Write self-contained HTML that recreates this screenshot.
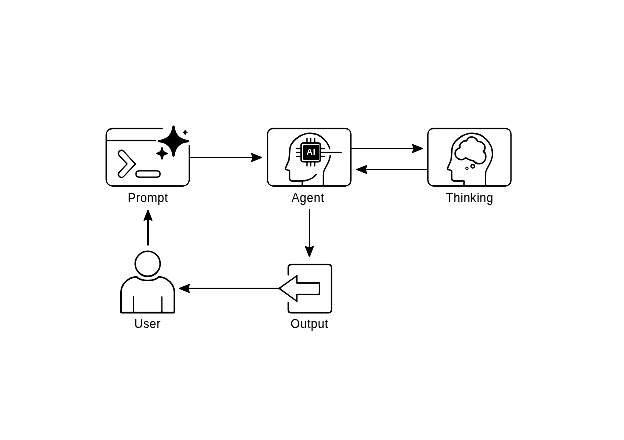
<!DOCTYPE html>
<html><head><meta charset="utf-8">
<style>
html,body{margin:0;padding:0;background:#fff;}
svg{display:block;will-change:transform;}
text{font-family:"Liberation Sans",sans-serif;font-size:12px;fill:#000;letter-spacing:0.3px;stroke:#000;stroke-width:0.05px;}
</style></head>
<body>
<svg width="624" height="440" viewBox="0 0 624 440">
<defs><filter id="c" x="0" y="0" width="624" height="440" filterUnits="userSpaceOnUse" color-interpolation-filters="sRGB"><feComponentTransfer><feFuncR type="linear" slope="1.8" intercept="-0.4"/><feFuncG type="linear" slope="1.8" intercept="-0.4"/><feFuncB type="linear" slope="1.8" intercept="-0.4"/></feComponentTransfer></filter></defs>
<g filter="url(#c)">
<rect width="624" height="440" fill="#fff"/>
<g fill="none" stroke="#000" stroke-linecap="butt" stroke-linejoin="round">

<!-- ===== Prompt box ===== -->
<path d="M162.7,128.5 H112.5 A6.3,6.3 0 0 0 106.2,134.8 V179.7 A6.3,6.3 0 0 0 112.5,186 H183 A6.3,6.3 0 0 0 189.3,179.7 V145" stroke-width="1.3"/>
<path d="M106.2,140.5 H156" stroke-width="1.3"/>
<!-- chevron -->
<path d="M121.5,153.5 L131.2,163.9 L121.5,174.3" stroke-width="7.4" stroke-linecap="round" stroke-linejoin="miter"/>
<path d="M121.5,153.5 L131.2,163.9 L121.5,174.3" stroke="#fff" stroke-width="4.9" stroke-linecap="round" stroke-linejoin="miter"/>
<!-- pill -->
<path d="M139.0,173.95 H157.05" stroke-width="7.4" stroke-linecap="round"/>
<path d="M139.0,173.95 H157.05" stroke="#fff" stroke-width="4.9" stroke-linecap="round"/>

<!-- ===== Agent box ===== -->
<rect x="267.6" y="128.5" width="83.3" height="57.5" rx="5.5" stroke-width="1.3"/>
<!-- head -->
<path d="M302.3,186 V181" stroke-width="1.4"/>
<path d="M323.40,186 V175 C323.40,172.5 323.80,170.5 325.00,168.5 C327.00,165 330.40,160 330.40,154 C330.40,143 321.00,133.3 310.20,133.3 C300.20,133.3 289.90,142 289.80,150 C289.80,153 289.50,156 288.90,160.2 L285.60,167.9 C285.00,169.1 285.60,169.7 287.10,169.9 C288.60,170.1 289.60,170.6 289.60,171.6 L289.60,178.6 C289.60,180.2 290.30,181 292.00,181 L302.50,181 C308.00,180.6 313.00,179.5 316.50,174.2" stroke-width="1.4"/>
<rect x="327.5" y="149.4" width="5" height="5.6" fill="#fff" stroke="none"/>
<!-- chip -->
<rect x="301.1" y="143.1" width="19.2" height="18.6" rx="2" stroke-width="1.5" fill="#fff"/>
<rect x="303.1" y="145" width="16" height="15" rx="1" fill="#000" stroke="none"/>
<path d="M307,137.8 V142.2 M310.7,137.8 V142.2 M314.7,137.8 V142.2 M307,162 V166.4 M310.7,162 V166.4 M314.7,162 V166.4 M296.2,148.5 H300.3 M296.2,152.4 H300.3 M296.2,156.3 H300.3 M320.6,148.5 H325 M320.6,152.4 H341.7 M320.6,156.3 H325" stroke-width="1.3"/>

<!-- ===== Thinking box ===== -->
<rect x="427.9" y="128.5" width="83.1" height="57.5" rx="5.5" stroke-width="1.3"/>
<path d="M464,186 V181" stroke-width="1.4"/>
<path d="M485.50,186 V175 C485.50,172.5 485.90,170.5 487.10,168.5 C489.10,165 492.50,160 492.50,154 C492.50,143 483.10,133.3 472.30,133.3 C462.30,133.3 452.00,142 451.90,150 C451.90,153 451.60,156 451.00,160.2 L447.70,167.9 C447.10,169.1 447.70,169.7 449.20,169.9 C450.70,170.1 451.70,170.6 451.70,171.6 L451.70,178.6 C451.70,180.2 452.40,181 454.10,181 L464.60,181 " stroke-width="1.4"/>
<!-- cloud -->
<path d="M466.6,140.9 C467.5,137.5 470,136.8 472,136.9 C474.5,137 476.6,138.5 477.8,141.6 C480.5,141.3 484.5,143 485,146.5 C485.3,148.8 484.5,150.5 483.3,151.5 C485.2,152.5 486,154.5 485.8,157.5 C485.5,161.5 482.5,164 479,163.8 C476.5,163.7 474.5,162.5 473.8,160.9 C471,160.5 467.5,159.5 465.6,157.8 C463.8,159.7 461,160 458.8,159 C456.3,158 455,156 455.1,153.4 C455.2,150.8 457.3,148.4 460,147.7 C459.2,145 460.8,142.5 462.2,142.2 C463.8,141 465.5,140.8 466.6,140.9 Z" stroke-width="1.5"/>
<circle cx="472.7" cy="166.3" r="1.8" stroke-width="1.3"/>
<circle cx="466.9" cy="168.3" r="1.3" stroke-width="1.0"/>

<!-- ===== Output box ===== -->
<path d="M288.3,275.5 V267.3 A2.8,2.8 0 0 1 291.1,264.5 H328.7 A2.8,2.8 0 0 1 331.5,267.3 V310 A2.8,2.8 0 0 1 328.7,312.8 H291.1 A2.8,2.8 0 0 1 288.3,310 V302" stroke-width="1.5"/>
<path d="M279.2,288.4 L296.9,275.8 V283 H319.4 V294.3 H296.9 V301.2 Z" stroke-width="1.3" stroke-linejoin="miter"/>

<!-- ===== User ===== -->
<circle cx="147.7" cy="263.8" r="12.5" stroke-width="1.5"/>
<path d="M136.6,276.8 C140.5,281.8 154.9,281.8 158.8,276.8 C167.5,277.6 174.4,284 174.4,292.5 V312.6 H121 V292.5 C121,284 127.9,277.6 136.6,276.8 Z" stroke-width="1.6"/>
<path d="M133.5,296.3 V312.4 M161.9,296.3 V312.4" stroke-width="1.2"/>

<!-- ===== Arrows ===== -->
<path d="M189.5,157.5 H253" stroke-width="1.1"/>
<path d="M350.8,148.5 H414" stroke-width="1.1"/>
<path d="M428,169.5 H365" stroke-width="1.1"/>
<path d="M309.5,209.2 V248" stroke-width="1.1"/>
<path d="M278.9,288.4 H188" stroke-width="1.1"/>
<path d="M148,245.6 V218" stroke-width="2"/>
</g>

<g fill="#000" stroke="none">
<!-- stars -->
<path d="M173.50,126.65 Q174.94,139.66 187.95,141.10 Q174.94,142.54 173.50,155.55 Q172.06,142.54 159.05,141.10 Q172.06,139.66 173.50,126.65 Z" stroke="#000" stroke-width="2.3" stroke-linejoin="round"/>
<path d="M162.00,147.85 Q162.28,153.12 167.55,153.40 Q162.28,153.68 162.00,158.95 Q161.72,153.68 156.45,153.40 Q161.72,153.12 162.00,147.85 Z" stroke="#000" stroke-width="1.5" stroke-linejoin="round"/>
<path d="M185.20,130.20 Q185.20,132.40 187.40,132.40 Q185.20,132.40 185.20,134.60 Q185.20,132.40 183.00,132.40 Q185.20,132.40 185.20,130.20 Z" stroke="#000" stroke-width="1.0" stroke-linejoin="round"/>
<!-- arrowheads (classic) -->
<path d="M262.00,157.50 L251.30,161.75 L252.80,157.50 L251.30,153.25 Z" stroke="#000" stroke-width="0.7" stroke-linejoin="round"/>
<path d="M423.00,148.50 L412.30,152.75 L413.80,148.50 L412.30,144.25 Z" stroke="#000" stroke-width="0.7" stroke-linejoin="round"/>
<path d="M356.30,169.50 L367.00,165.25 L365.50,169.50 L367.00,173.75 Z" stroke="#000" stroke-width="0.7" stroke-linejoin="round"/>
<path d="M309.40,257.00 L305.15,246.30 L309.40,247.80 L313.65,246.30 Z" stroke="#000" stroke-width="0.7" stroke-linejoin="round"/>
<path d="M178.90,288.40 L189.60,284.15 L188.10,288.40 L189.60,292.65 Z" stroke="#000" stroke-width="0.7" stroke-linejoin="round"/>
<path d="M148.00,209.80 L152.25,220.50 L148.00,219.00 L143.75,220.50 Z" stroke="#000" stroke-width="0.7" stroke-linejoin="round"/>
<!-- labels -->
<text x="148" y="202" text-anchor="middle">Prompt</text>
<text x="307.9" y="202" text-anchor="middle">Agent</text>
<text x="469.7" y="202" text-anchor="middle">Thinking</text>
<text x="147.5" y="328.4" text-anchor="middle">User</text>
<text x="309.5" y="328.4" text-anchor="middle">Output</text>
<text x="311" y="155" text-anchor="middle" style="fill:#fff;stroke:none;font-size:8.6px;font-weight:bold;letter-spacing:0.1px">AI</text>
</g>
</g>
</svg>
</body></html>
